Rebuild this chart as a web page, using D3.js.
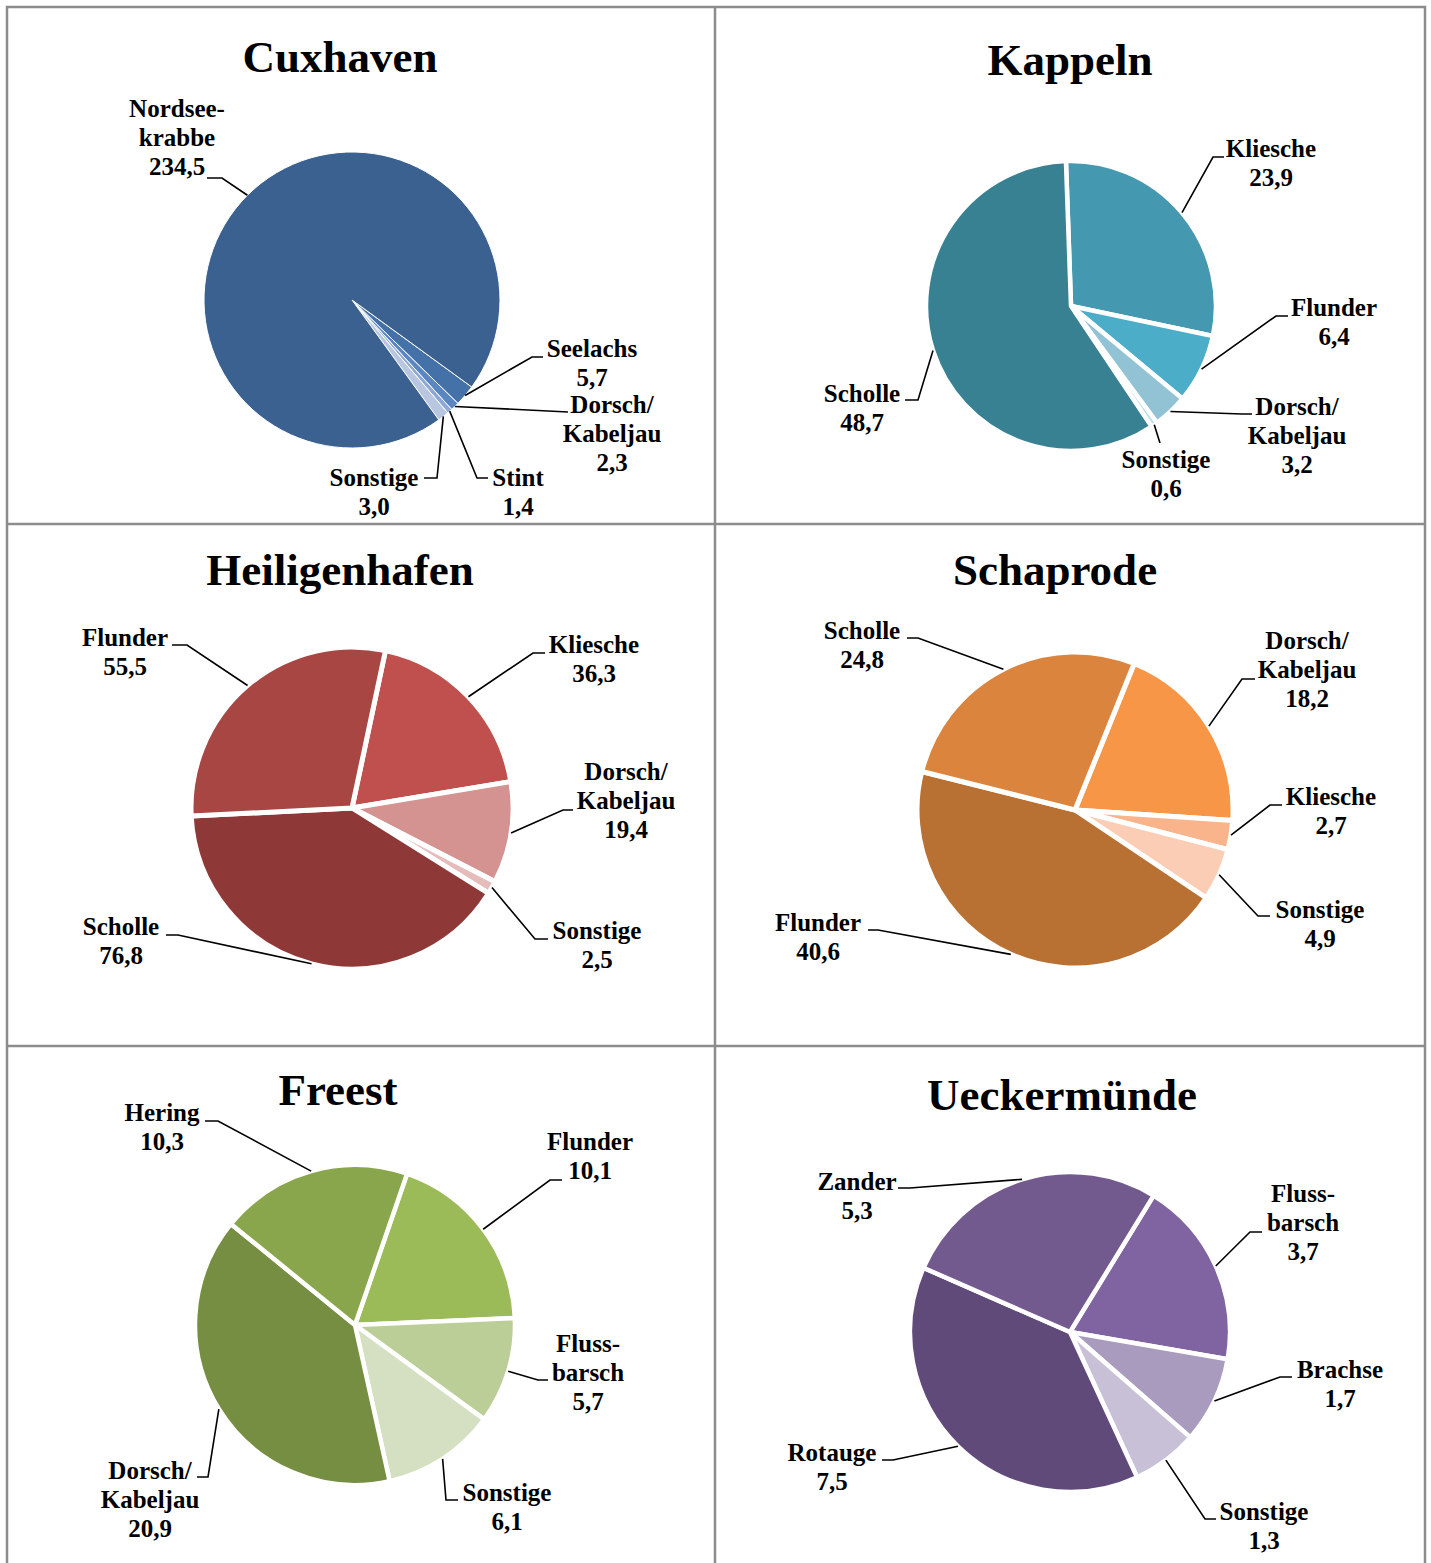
<!DOCTYPE html>
<html>
<head>
<meta charset="utf-8">
<script src="https://cdn.jsdelivr.net/npm/d3@7"></script>
<style>
  body { margin: 0; background: #fff; }
  svg text { font-family: "Liberation Serif", "Times New Roman", serif; font-weight: bold; fill: #000; }
</style>
</head>
<body>
<svg id="chart" width="1431" height="1563"></svg>
<script>
// --- data ---
const ports = ["Cuxhaven", "Kappeln", "Heiligenhafen", "Schaprode", "Freest", "Ueckermünde"];

const cuxhavenSpecies = ["Seelachs", "Dorsch/|Kabeljau", "Stint", "Sonstige", "Nordsee-|krabbe"];
const cuxhavenValues  = [5.7, 2.3, 1.4, 3.0, 234.5];

const kappelnSpecies = ["Kliesche", "Flunder", "Dorsch/|Kabeljau", "Sonstige", "Scholle"];
const kappelnValues  = [23.9, 6.4, 3.2, 0.6, 48.7];

const heiligenhafenSpecies = ["Kliesche", "Dorsch/|Kabeljau", "Sonstige", "Scholle", "Flunder"];
const heiligenhafenValues  = [36.3, 19.4, 2.5, 76.8, 55.5];

const schaprodeSpecies = ["Dorsch/|Kabeljau", "Kliesche", "Sonstige", "Flunder", "Scholle"];
const schaprodeValues  = [18.2, 2.7, 4.9, 40.6, 24.8];

const freestSpecies = ["Flunder", "Fluss-|barsch", "Sonstige", "Dorsch/|Kabeljau", "Hering"];
const freestValues  = [10.1, 5.7, 6.1, 20.9, 10.3];

const ueckermuendeSpecies = ["Fluss-|barsch", "Brachse", "Sonstige", "Rotauge", "Zander"];
const ueckermuendeValues  = [3.7, 1.7, 1.3, 7.5, 5.3];

const speciesByPort = [cuxhavenSpecies, kappelnSpecies, heiligenhafenSpecies, schaprodeSpecies, freestSpecies, ueckermuendeSpecies];
const valuesByPort  = [cuxhavenValues, kappelnValues, heiligenhafenValues, schaprodeValues, freestValues, ueckermuendeValues];

// --- styles / layout ---
const palettes = [
  ["#4471A8", "#5A86C2", "#8EA8D6", "#B9C6E0", "#3B6190"],
  ["#4499B1", "#4BADC7", "#92C3D4", "#B8DCE6", "#388193"],
  ["#C0504D", "#D49290", "#E6BCBB", "#8E3937", "#A84644"],
  ["#F79646", "#F9B48C", "#FBCDB5", "#B87133", "#DB843D"],
  ["#9BBB59", "#BBCE97", "#D4E0C1", "#758E41", "#8AA64C"],
  ["#8064A2", "#A99BBD", "#C8C0D7", "#5F4A7A", "#72598E"]
];
// start angle (deg, clockwise from 12 o'clock) of the first slice
const startAngles = [126, -2, 12, 22, 19, 31.5];
const centers = [[352, 300], [1071, 306], [352, 808], [1075, 810], [355, 1325], [1070, 1332]];
const radii = [148, 145, 161, 158, 160, 160];
const gaps = [1, 4.5, 5, 5, 4.5, 4.5];
const titlePos = [[340, 72], [1070, 75], [340, 585], [1055, 585], [338, 1105], [1062, 1110]];

// label layout relative to pie center: [labelX, firstBaseline, elbowX, elbowY, endX]
const labelLayout = [
  [[240, 57, 180, 57, 191], [260, 113, 216, 112, 216], [166, 186, 125, 178, 136], [22, 186, 85, 178, 72], [-175, -183, -130, -122, -145]],
  [[200, -149, 142, -149, 153], [263, 10, 205, 10, 217], [226, 109, 171, 108, 181], [95, 162, 89, 137, 89], [-209, 96, -153, 94, -166]],
  [[242, -155, 181, -155, 193], [274, -28, 211, 2, 221], [245, 131, 183, 131, 196], [-231, 127, -174, 127, -186], [-227, -162, -165, -163, -180]],
  [[232, -161, 167, -131, 180], [256, -5, 195, -5, 207], [245, 108, 183, 106, 195], [-257, 121, -197, 120, -207], [-213, -171, -157, -172, -168]],
  [[235, -175, 195, -145, 207], [233, 27, 183, 55, 193], [152, 176, 91, 175, 103], [-205, 154, -147, 152, -158], [-193, -204, -137, -204, -150]],
  [[233, -130, 180, -100, 192], [270, 46, 210, 45, 222], [194, 188, 135, 187, 146], [-238, 129, -177, 128, -188], [-213, -142, -160, -144, -172]]
];

const de = d3.formatLocale({ decimal: ",", thousands: ".", grouping: [3], currency: ["", " €"] });
const fmt = de.format(".1f");

const svg = d3.select("#chart");

// panel frame
const frame = svg.append("g").attr("stroke", "#8c8c8c").attr("stroke-width", 2.5).attr("fill", "none");
frame.append("rect").attr("x", 7).attr("y", 7).attr("width", 1418).attr("height", 1570);
frame.append("line").attr("x1", 715).attr("x2", 715).attr("y1", 7).attr("y2", 1563);
frame.append("line").attr("x1", 7).attr("x2", 1425).attr("y1", 524).attr("y2", 524);
frame.append("line").attr("x1", 7).attr("x2", 1425).attr("y1", 1046).attr("y2", 1046);

ports.forEach((port, i) => {
  const data = speciesByPort[i].map((s, j) => ({ name: s, value: valuesByPort[i][j] }));
  const a0 = startAngles[i] * Math.PI / 180;
  const pie = d3.pie().sort(null).value(d => d.value).startAngle(a0).endAngle(a0 + 2 * Math.PI);
  const r = radii[i];
  const arc = d3.arc().innerRadius(0).outerRadius(r);
  const edge = d3.arc().innerRadius(r).outerRadius(r);
  const color = d3.scaleOrdinal().domain(speciesByPort[i]).range(palettes[i]);

  const g = svg.append("g").attr("transform", `translate(${centers[i][0]},${centers[i][1]})`);
  const arcs = pie(data);

  g.selectAll("path.slice")
    .data(arcs)
    .enter().append("path")
    .attr("class", "slice")
    .attr("d", arc)
    .attr("fill", d => color(d.data.name))
    .attr("stroke", "#fff")
    .attr("stroke-width", gaps[i])
    .attr("stroke-linejoin", "round");

  // leader lines
  g.selectAll("path.leader")
    .data(arcs)
    .enter().append("path")
    .attr("class", "leader")
    .attr("fill", "none")
    .attr("stroke", "#000")
    .attr("stroke-width", 1.6)
    .attr("d", (d, j) => {
      const p = edge.centroid(d);
      const L = labelLayout[i][j];
      return `M${p[0]},${p[1]}L${L[2]},${L[3]}L${L[4]},${L[3]}`;
    });

  // labels
  const labels = g.selectAll("text.lbl")
    .data(arcs)
    .enter().append("text")
    .attr("class", "lbl")
    .attr("text-anchor", "middle")
    .style("font-size", "25px");
  labels.each(function(d, j) {
    const L = labelLayout[i][j];
    const lines = d.data.name.split("|").concat([fmt(d.data.value)]);
    d3.select(this).selectAll("tspan")
      .data(lines)
      .enter().append("tspan")
      .attr("x", L[0])
      .attr("y", (t, k) => L[1] + k * 29)
      .text(t => t);
  });

  svg.append("text")
    .attr("x", titlePos[i][0])
    .attr("y", titlePos[i][1])
    .attr("text-anchor", "middle")
    .style("font-size", "45px")
    .text(port);
});
</script>
</body>
</html>
